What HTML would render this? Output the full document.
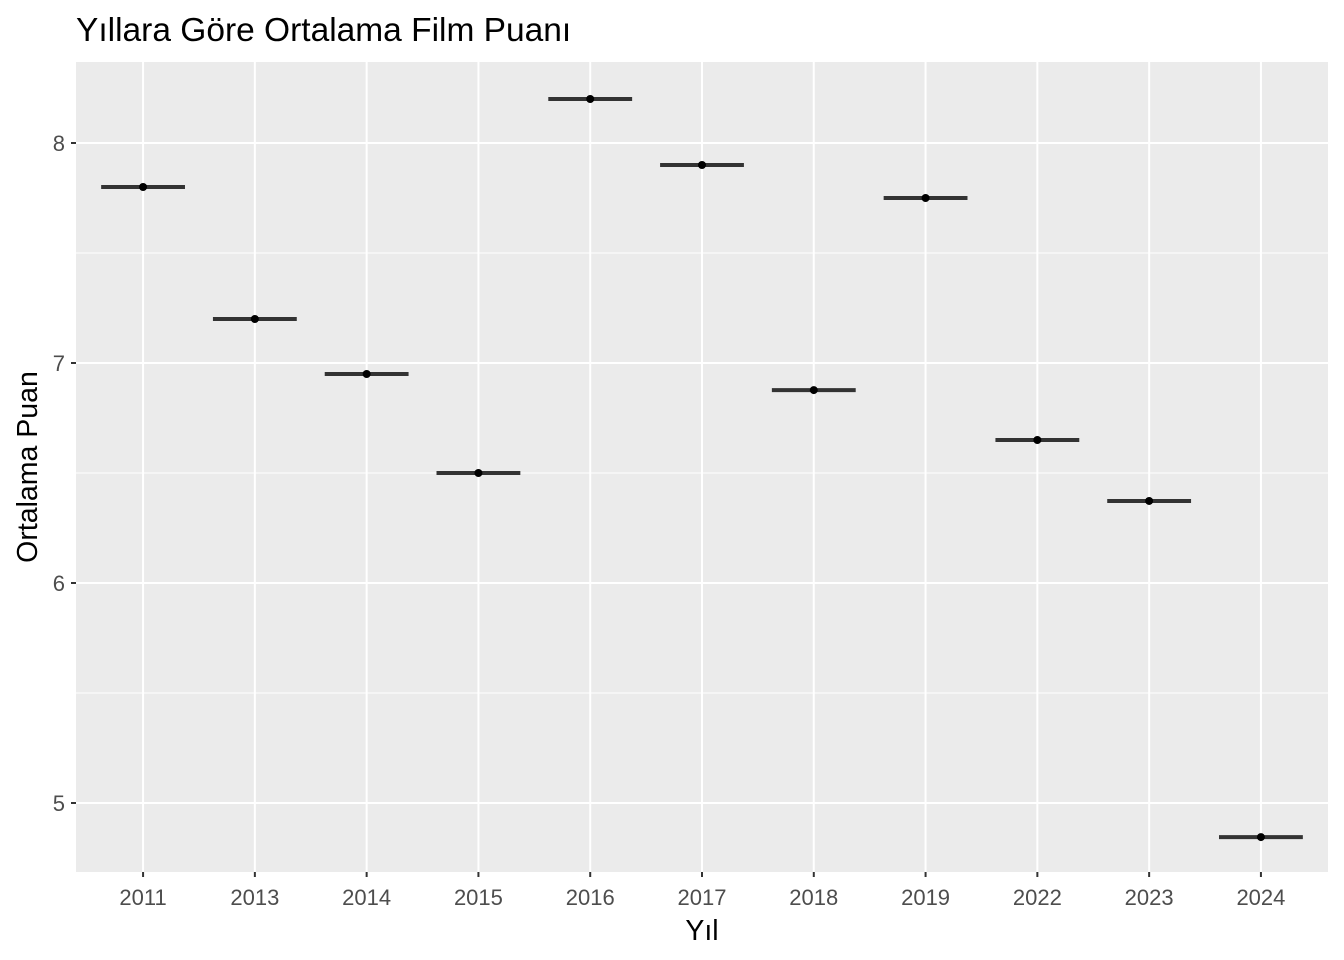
<!DOCTYPE html>
<html><head><meta charset="utf-8"><style>
html,body{margin:0;padding:0;background:#fff;}
svg{display:block;font-family:"Liberation Sans",Arial,sans-serif;}
</style></head><body>
<svg id="chart" width="1344" height="960" xmlns="http://www.w3.org/2000/svg">
<rect width="1344" height="960" fill="#fff"/>
<text x="76" y="41" font-size="33.5" fill="#000">Yıllara Göre Ortalama Film Puanı</text>
<rect x="76" y="62" width="1252" height="810" fill="#EBEBEB"/>
<g id="grid"></g>
<g id="marks"></g>
<g id="axes"></g>
<text x="702" y="940" font-size="28.5" text-anchor="middle" fill="#000">Yıl</text>
<text transform="translate(37,467) rotate(-90)" font-size="28.5" text-anchor="middle" fill="#000">Ortalama Puan</text>
</svg>
<script>
const categories=["2011","2013","2014","2015","2016","2017","2018","2019","2022","2023","2024"];
const values=[7.8,7.2,6.95,6.5,8.2,7.9,6.877,7.75,6.65,6.373,4.845];
const yTicks=[5,6,7,8];
const yMinor=[4.5,5.5,6.5,7.5];
const NS="http://www.w3.org/2000/svg";
const px0=76,px1=1328,py0=62,py1=872;
const yMin=4.6864,yMax=8.3682;
function y(v){return py1-(v-yMin)/(yMax-yMin)*(py1-py0);}
const step=(px1-px0)/(categories.length+0.2);
function x(i){return px0+step*(0.6+i);}
function mk(tag,attrs,parent){const e=document.createElementNS(NS,tag);for(const k in attrs)e.setAttribute(k,attrs[k]);parent.appendChild(e);return e;}
const grid=document.getElementById('grid'),marks=document.getElementById('marks'),axes=document.getElementById('axes');
yMinor.forEach(v=>{if(y(v)<py0||y(v)>py1)return;const l=mk('line',{x1:px0,x2:px1,y1:y(v),y2:y(v),stroke:'#fff','stroke-width':1},grid);

});
yTicks.forEach(v=>{const l=mk('line',{x1:px0,x2:px1,y1:y(v),y2:y(v),stroke:'#fff','stroke-width':2},grid);


const tk=mk('line',{x1:px0-5,x2:px0,y1:y(v),y2:y(v),stroke:'#333','stroke-width':2},axes);


const t=mk('text',{x:px0-11,y:y(v)+8,'font-size':22,'text-anchor':'end',fill:'#4D4D4D'},axes);t.textContent=v;

});
categories.forEach((c,i)=>{const l=mk('line',{x1:x(i),x2:x(i),y1:py0,y2:py1,stroke:'#fff','stroke-width':2},grid);


const tk=mk('line',{x1:x(i),x2:x(i),y1:py1,y2:py1+5,stroke:'#333','stroke-width':2},axes);


const t=mk('text',{x:x(i),y:py1+33,'font-size':22,'text-anchor':'middle',fill:'#4D4D4D'},axes);t.textContent=c;


const w=step*0.75/2;
const b=mk('line',{x1:x(i)-w,x2:x(i)+w,y1:y(values[i]),y2:y(values[i]),stroke:'#333','stroke-width':4},marks);


const p=mk('circle',{cx:x(i),cy:y(values[i]),r:4,fill:'#000'},marks);

});
</script>
</body></html>
